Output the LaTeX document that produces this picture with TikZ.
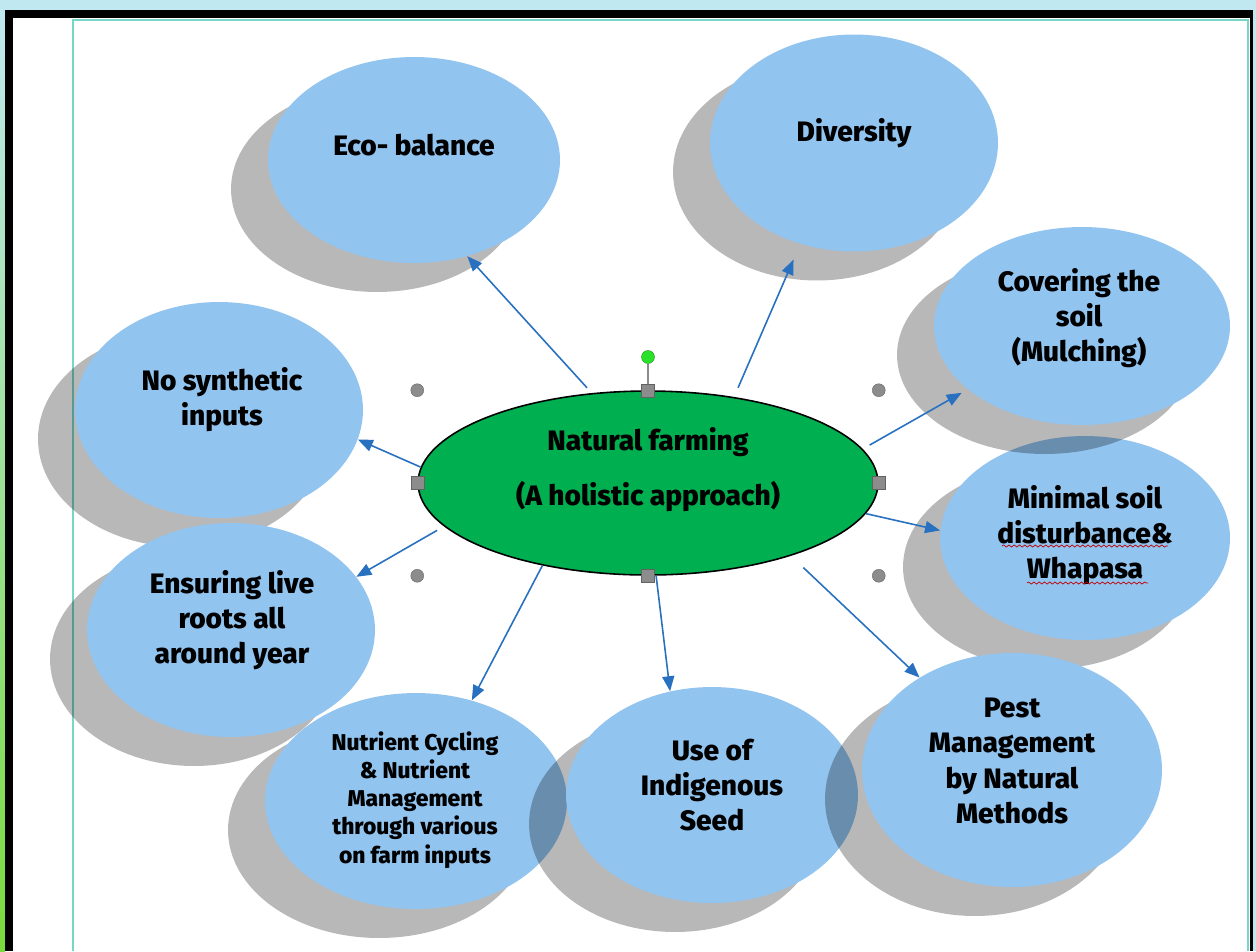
\documentclass[tikz,border=0pt]{standalone}
\usepackage{fontspec}
\setmainfont{Fira Sans}[BoldFont={Fira Sans ExtraBold}]
\usetikzlibrary{shapes.geometric,shadows,arrows.meta,calc,decorations.pathmorphing}

\definecolor{bubbleblue}{RGB}{146,196,240}
\definecolor{farmgreen}{RGB}{0,176,80}
\definecolor{linkblue}{RGB}{40,112,192}
\definecolor{handlegray}{RGB}{140,140,140}
\definecolor{rotgreen}{RGB}{40,225,40}
\definecolor{pagecyan}{RGB}{120,214,200}
\definecolor{bgcyan}{RGB}{192,232,240}
\definecolor{stripgreen}{RGB}{120,220,60}

\tikzset{
	bubble/.style={ellipse, fill=bubbleblue, inner sep=0pt, drop shadow={shadow xshift=-0.74cm, shadow yshift=-0.58cm, opacity=0.28, fill=black}},
	txt/.style={font={\bfseries\fontsize{16}{20}\selectfont}, align=center, text=black},
	smalltxt/.style={font={\bfseries\fontsize{13}{16}\selectfont}, align=center, text=black},
	link/.style={draw=linkblue, line width=0.9pt, -{Triangle[length=0.3cm, width=0.24cm]}},
	handle/.style={fill=handlegray, draw=handlegray!70!black, line width=0.2pt, inner sep=0pt, minimum size=0.26cm},
	squiggle/.style={draw=red!75!black, line width=0.4pt, decorate, decoration={snake, amplitude=0.6pt, segment length=3pt}}
}

\begin{document}
\begin{tikzpicture}[x=0.02cm, y=-0.02cm]
	\useasboundingbox (0,0) rectangle (1256,951);
	\fill[bgcyan] (0,0) rectangle (1256,951);
	\shade[top color=bgcyan, bottom color=stripgreen] (0,10) rectangle (5,951);
	\fill[black] (5,10) rectangle (1253,951);
	\fill[white] (13,18) rectangle (1250,951);
	\draw[pagecyan, line width=0.6pt] (73,951) -- (73,20) -- (1248,20) -- (1248,951);
	
	\node[bubble, minimum width=5.84cm, minimum height=4.12cm] (eco) at (414,160) {};
	\node[bubble, minimum width=5.76cm, minimum height=4.34cm] (div) at (854,143) {};
	\node[bubble, minimum width=5.76cm, minimum height=4.32cm] (nosyn) at (219,410) {};
	\node[bubble, minimum width=5.76cm, minimum height=4.28cm] (ens) at (231,630) {};
	\node[bubble, minimum width=5.80cm, minimum height=4.08cm] (min) at (1085,538) {};
	\node[bubble, minimum width=5.92cm, minimum height=3.96cm] (cov) at (1082,326) {};
	\node[bubble, minimum width=6.04cm, minimum height=4.32cm] (nut) at (416,801) {};
	\node[bubble, minimum width=5.84cm, minimum height=4.32cm] (use) at (712,795) {};
	\node[bubble, minimum width=6.00cm, minimum height=4.68cm] (pest) at (1012,770) {};
	
	\node[ellipse, fill=farmgreen, draw=black, line width=0.9pt, inner sep=0pt, minimum width=9.2cm, minimum height=3.68cm] (farm) at (648,483) {};
	
	\draw[link, shorten <=0.14cm] (farm.122) -- (eco.-61);
	\draw[link, shorten <=0.2cm, shorten >=0.34cm] (farm.45) -- (div.-118);
	\draw[link, shorten <=0.16cm, shorten >=0.14cm] (farm.9) -- (cov.-151);
	\draw[link] (farm.-8) -- (min.177);
	\draw[link, shorten <=0.34cm] (farm.-27) -- (pest.135);
	\draw[link] (farm.-85) -- (use.112);
	\draw[link] (farm.-142) -- (nut.61);
	\draw[link, shorten <=0.16cm] (farm.-168) -- (ens.23);
	\draw[link] (farm.176) -- (nosyn.-12);
	
	\node[handle, circle, fill=rotgreen, draw=rotgreen!60!black] (rot) at (648,357) {};
	\draw[handlegray, line width=0.7pt] (rot) -- (farm.north);
	\node[handle] (hn) at (farm.north) {};
	\node[handle] (hs) at (farm.south) {};
	\node[handle] (he) at (farm.east) {};
	\node[handle] (hw) at (farm.west) {};
	\node[handle, circle] (hnw) at (farm.north -| farm.west) {};
	\node[handle, circle] (hne) at (farm.north -| farm.east) {};
	\node[handle, circle] (hsw) at (farm.south -| farm.west) {};
	\node[handle, circle] (hse) at (farm.south -| farm.east) {};
	
	\node[txt] (farmtext) at (648,470) {Natural farming\\[0.4cm](A holistic approach)};
	\node[txt] (ecotext) at (414,145) {Eco- balance};
	\node[txt] (divtext) at (854,133) {Diversity};
	\node[txt] (covtext) at (1079,318) {Covering the\\soil\\(Mulching)};
	\node[txt] (mintext) at (1085,535) {Minimal soil\\disturbance\&\\Whapasa};
	\node[txt] (nosyntext) at (222,400) {No synthetic\\inputs};
	\node[txt] (enstext) at (232,620) {Ensuring live\\roots all\\around year};
	\node[smalltxt] (nuttext) at (415,800) {Nutrient Cycling\\\& Nutrient\\Management\\through various\\on farm inputs};
	\node[txt] (usetext) at (712,785) {Use of\\Indigenous\\Seed};
	\node[txt] (pesttext) at (1012,761) {Pest\\Management\\by Natural\\Methods};
	
	\draw[squiggle] (1002,546) -- (1168,546);
	\draw[squiggle] (1027,583) -- (1148,583);
\end{tikzpicture}
\end{document}
